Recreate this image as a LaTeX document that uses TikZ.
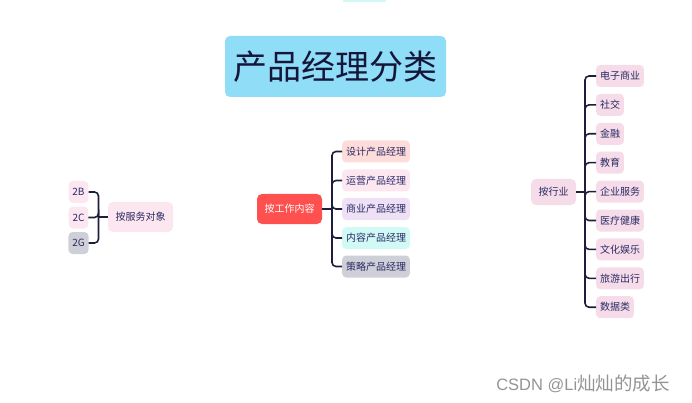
\documentclass[tikz,border=0pt]{standalone}
\usepackage{fontspec}
\setmainfont{Noto Sans CJK SC}
\newfontfamily\wmlatin{Liberation Sans}
\usetikzlibrary{positioning}
\definecolor{titlebg}{HTML}{8FDDF7}
\definecolor{inkdark}{HTML}{16163A}
\definecolor{leafink}{HTML}{2A2A66}
\definecolor{linkcol}{HTML}{1E1E3C}
\definecolor{pinkbg}{HTML}{FCE6F0}
\definecolor{greybg}{HTML}{CFCFD8}
\definecolor{salmonbg}{HTML}{FDDCDA}
\definecolor{lavbg}{HTML}{EEE1F5}
\definecolor{mintbg}{HTML}{D2FAF5}
\definecolor{trade}{HTML}{F5DCE8}
\definecolor{redbg}{HTML}{FF5050}

\begin{document}
\begin{tikzpicture}[
  x=1pt, y=-1pt,
  font=\fontsize{10}{12}\selectfont,
  title/.style={rounded corners=5pt, fill=titlebg, text=inkdark, minimum height=61pt,
                inner xsep=8.5pt, font=\fontsize{34}{40}\selectfont},
  hub/.style={rounded corners=5pt, minimum height=30pt, inner xsep=7.5pt, text=leafink},
  leaf/.style={rounded corners=4pt, minimum height=22pt, inner xsep=3.8pt, text=leafink},
  link/.style={draw=linkcol, line width=1.6pt, rounded corners=4pt},
  wmark/.style={text=black!42, inner sep=0pt}
]
\useasboundingbox (0,0) rectangle (692,403);

% title
\node[title] (root) at (335.5,66.5) {产品经理分类};
\fill[mintbg] (343,0) rectangle (386,2);

% by customer
\node[hub, fill=pinkbg] (svc) at (140.5,217) {按服务对象};
\node[leaf, fill=pinkbg] (c2b) at (78.5,192) {2B};
\node[leaf, fill=pinkbg] (c2c) at (78.5,217.5) {2C};
\node[leaf, fill=greybg] (c2g) at (78.5,243) {2G};
\coordinate (spineL) at (98.5,217);
\draw[link] (svc.west) -- (spineL);
\foreach \k in {c2b,c2c,c2g}
  \draw[link] (spineL) |- (\k.east);

% by work content
\node[hub, fill=redbg, text=white] (job) at (289.5,209) {按工作内容};
\node[leaf, fill=salmonbg, anchor=west] (design) at (342,151.5) {设计产品经理};
\node[leaf, fill=pinkbg, anchor=west] (ops) at (342,180.5) {运营产品经理};
\node[leaf, fill=lavbg, anchor=west] (biz) at (342,209) {商业产品经理};
\node[leaf, fill=mintbg, anchor=west] (content) at (342,238) {内容产品经理};
\node[leaf, fill=greybg, anchor=west] (strat) at (342,266.5) {策略产品经理};
\coordinate (spineM) at (332,209);
\draw[link] (job.east) -- (spineM);
\foreach \k in {design,ops,biz,content,strat}
  \draw[link] (spineM) |- (\k.west);

% by industry
\node[hub, fill=trade, minimum height=26pt] (ind) at (553.5,192) {按行业};
\foreach \k/\t [count=\i from 0] in {ecom/电子商业,social/社交,fin/金融,edu/教育,ent/企业服务,
    med/医疗健康,fun/文化娱乐,trip/旅游出行,data/数据类}
  \node[leaf, fill=trade, anchor=west] (\k) at (596,76+28.9*\i) {\t};
\coordinate (spineR) at (585,192);
\draw[link] (ind.east) -- (spineR);
\foreach \k in {ecom,social,fin,edu,ent,med,fun,trip,data}
  \draw[link] (spineR) |- (\k.west);

\node[wmark] (wm) at (583,383.5)
  {{\wmlatin\fontsize{16.5}{18}\selectfont CSDN @Li}{\fontsize{18.5}{20}\selectfont 灿灿的成长}};
\end{tikzpicture}
\end{document}
